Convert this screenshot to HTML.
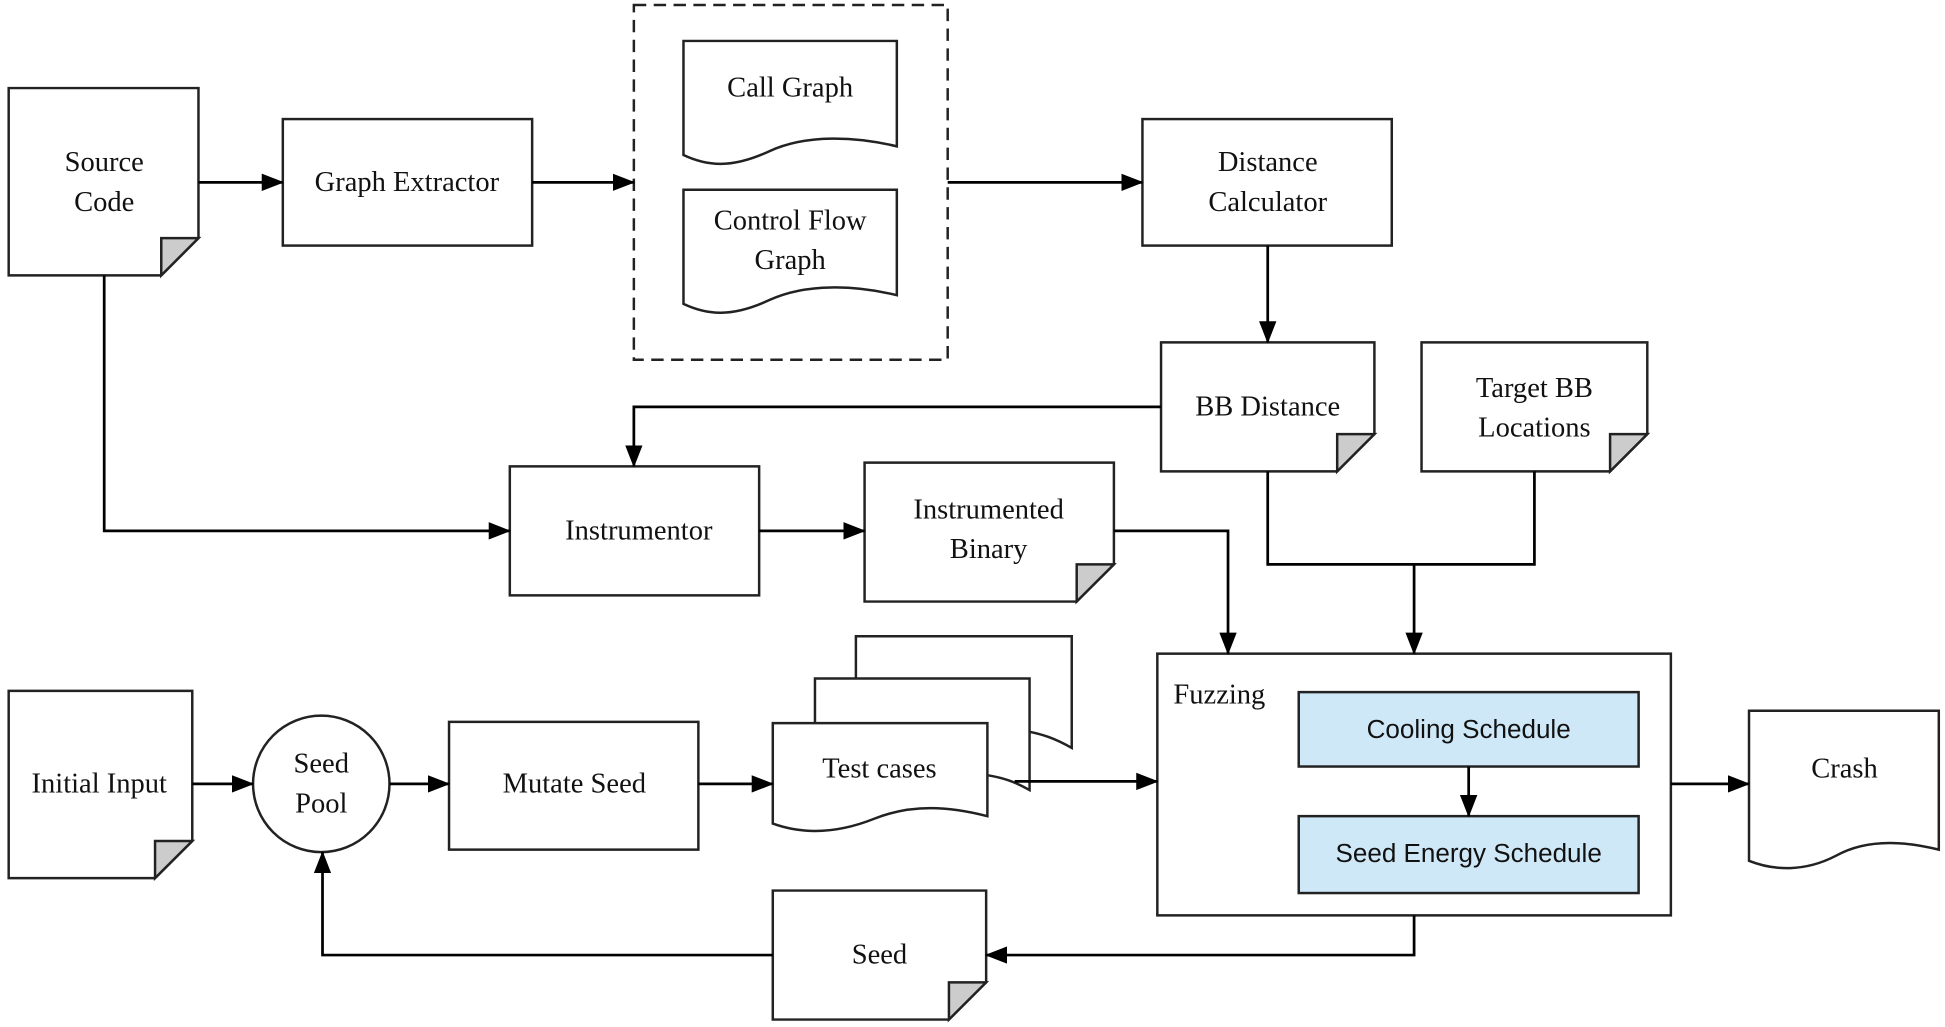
<!DOCTYPE html>
<html><head><meta charset="utf-8"><style>
html,body{margin:0;padding:0;background:#fff;}
svg{display:block;}
text{font-family:"Liberation Serif",serif;font-size:23px;fill:#111;text-anchor:middle;}
</style></head><body>
<svg width="1945" height="1027" viewBox="0 0 1568 828" preserveAspectRatio="none" xmlns="http://www.w3.org/2000/svg">
<defs>
<marker id="a" markerWidth="18" markerHeight="14" refX="17" refY="7" orient="auto" markerUnits="userSpaceOnUse">
<path d="M0,0 L18,7 L0,14 Z" fill="#000"/></marker>
</defs>
<g fill="#fff" stroke="#222" stroke-width="2">
<path d="M7,71 H160 V192 L130,222 H7 Z"/>
<path d="M130,222 V192 H160 Z" fill="#ccc"/>
<rect x="228" y="96" width="201" height="102"/>
<rect x="511" y="4" width="253" height="286" stroke-dasharray="10,6" fill="none"/>
<path d="M551,33 H723 V118 C690,110 650,108 620,122 C590,136 570,134 551,125 Z"/>
<path d="M551,153 H723 V238 C690,230 650,228 620,242 C590,256 570,254 551,245 Z"/>
<rect x="921" y="96" width="201" height="102"/>
<path d="M936,276 H1108 V350 L1078,380 H936 Z"/>
<path d="M1078,380 V350 H1108 Z" fill="#ccc"/>
<path d="M1146,276 H1328 V350 L1298,380 H1146 Z"/>
<path d="M1298,380 V350 H1328 Z" fill="#ccc"/>
<rect x="411" y="376" width="201" height="104"/>
<path d="M697,373 H898 V455 L868,485 H697 Z"/>
<path d="M868,485 V455 H898 Z" fill="#ccc"/>
<rect x="933" y="527" width="414" height="211"/>
<rect x="1047" y="558" width="274" height="60" fill="#cfe8f7"/>
<rect x="1047" y="658" width="274" height="62" fill="#cfe8f7"/>
<path d="M1410,573 H1563 V685 C1535,678 1505,676 1480,690 C1455,703 1430,702 1410,694 Z"/>
<path d="M7,557 H155 V678 L125,708 H7 Z"/>
<path d="M125,708 V678 H155 Z" fill="#ccc"/>
<circle cx="259" cy="632" r="55"/>
<rect x="362" y="582" width="201" height="103"/>
<path d="M690,547 V513 H864 V603 C850,595 840,592 830,590" fill="none"/>
<path d="M657,583 V547 H830 V637 C818,630 808,627 796,625" fill="none"/>
<path d="M623,583 H796 V658 C765,650 735,648 705,660 C675,672 648,673 623,664 Z"/>
<path d="M623,718 H795 V792 L765,822 H623 Z"/>
<path d="M765,822 V792 H795 Z" fill="#ccc"/>
</g>
<g fill="none" stroke="#000" stroke-width="2.2">
<path d="M160,147 H228" marker-end="url(#a)"/>
<path d="M429,147 H511" marker-end="url(#a)"/>
<path d="M764,147 H921" marker-end="url(#a)"/>
<path d="M1022,198 V276" marker-end="url(#a)"/>
<path d="M936,328 H511 V376" marker-end="url(#a)"/>
<path d="M84,222 V428 H411" marker-end="url(#a)"/>
<path d="M612,428 H697" marker-end="url(#a)"/>
<path d="M898,428 H990 V527" marker-end="url(#a)"/>
<path d="M1022,380 V455 H1237 V380"/>
<path d="M1140,455 V527" marker-end="url(#a)"/>
<path d="M1184,618 V658" marker-end="url(#a)"/>
<path d="M1347,632 H1410" marker-end="url(#a)"/>
<path d="M155,632 H204" marker-end="url(#a)"/>
<path d="M314,632 H362" marker-end="url(#a)"/>
<path d="M563,632 H623" marker-end="url(#a)"/>
<path d="M818,630 H933" marker-end="url(#a)"/>
<path d="M1140,738 V770 H795" marker-end="url(#a)"/>
<path d="M623,770 H260 V687" marker-end="url(#a)"/>
</g>
<text x="84" y="138">Source</text><text x="84" y="170">Code</text>
<text x="328" y="154">Graph Extractor</text>
<text x="637" y="78">Call Graph</text>
<text x="637" y="185">Control Flow</text><text x="637" y="217">Graph</text>
<text x="1022" y="138">Distance</text><text x="1022" y="170">Calculator</text>
<text x="1022" y="335">BB Distance</text>
<text x="1237" y="320">Target BB</text><text x="1237" y="352">Locations</text>
<text x="515" y="435">Instrumentor</text>
<text x="797" y="418">Instrumented</text><text x="797" y="450">Binary</text>
<text x="946" y="567" style="text-anchor:start">Fuzzing</text>
<text x="1184" y="595" style="font-family:'Liberation Sans',sans-serif;font-size:21px">Cooling Schedule</text>
<text x="1184" y="695" style="font-family:'Liberation Sans',sans-serif;font-size:21px">Seed Energy Schedule</text>
<text x="1487" y="627">Crash</text>
<text x="80" y="639">Initial Input</text>
<text x="259" y="623">Seed</text><text x="259" y="655">Pool</text>
<text x="463" y="639">Mutate Seed</text>
<text x="709" y="627">Test cases</text>
<text x="709" y="777">Seed</text>
</svg>
</body></html>
